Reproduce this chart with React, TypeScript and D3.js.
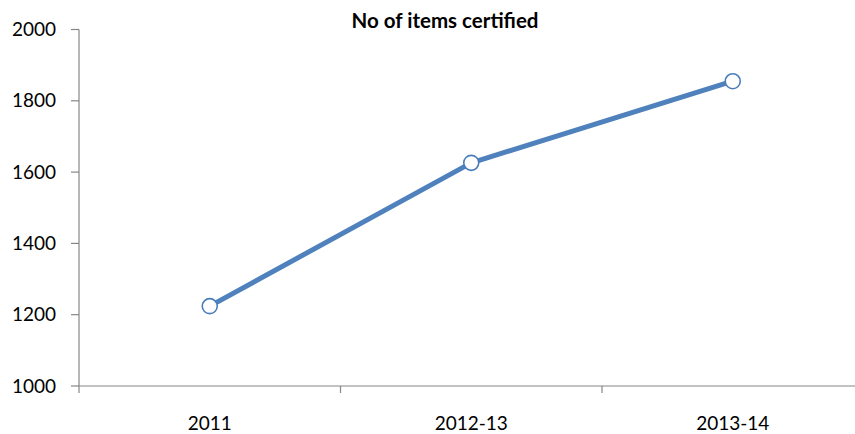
import React from "react";
import * as d3 from "d3";

const categories = ["2011", "2012-13", "2013-14"];
const itemsCertified = [1224, 1626, 1855];
const yTicks = [1000, 1200, 1400, 1600, 1800, 2000];
const chartTitle = "No of items certified";

const W = 855;
const H = 434;
const FONT = "Lato, 'Open Sans', sans-serif";

export default function App() {
  const left = 79;
  const top = 29.5;
  const bottom = 386;
  const right = 863.5;

  const x = d3.scaleBand<string>().domain(categories).range([left, right]).padding(0);
  const y = d3.scaleLinear().domain([1000, 2000]).range([bottom, top]);

  const cx = (c: string) => (x(c) ?? 0) + x.bandwidth() / 2;

  const line = d3
    .line<number>()
    .x((_, i) => cx(categories[i]))
    .y((d) => y(d));

  const axisColor = "#868686";
  const bandEdges = [...categories.map((c) => x(c) ?? 0), right];

  return (
    <svg
      width={W}
      height={H}
      style={{ position: "absolute", left: 0, top: 0, background: "#fff" }}
      fontFamily={FONT}
    >
      <text x={445} y={28} textAnchor="middle" fontSize={20.5} fontWeight="bold" fill="#000">
        {chartTitle}
      </text>

      {/* y axis */}
      <line x1={left} x2={left} y1={top} y2={bottom} stroke={axisColor} strokeWidth={1.2} />
      {yTicks.map((t) => (
        <g key={t}>
          <line x1={left - 8} x2={left} y1={y(t)} y2={y(t)} stroke={axisColor} strokeWidth={1.2} />
          <text x={left - 23} y={y(t)} dy="0.35em" textAnchor="end" fontSize={19} fill="#000">
            {t}
          </text>
        </g>
      ))}

      {/* x axis */}
      <line x1={left} x2={right} y1={bottom} y2={bottom} stroke={axisColor} strokeWidth={1.2} />
      {bandEdges.map((e, i) => (
        <line key={i} x1={e} x2={e} y1={bottom} y2={bottom + 7} stroke={axisColor} strokeWidth={1.2} />
      ))}
      {categories.map((c) => (
        <text key={c} x={cx(c)} y={bottom + 44} textAnchor="middle" fontSize={19} fill="#000">
          {c}
        </text>
      ))}

      <path
        d={line(itemsCertified) ?? ""}
        fill="none"
        stroke="#4f81bd"
        strokeWidth={5}
        strokeLinejoin="round"
      />
      {itemsCertified.map((v, i) => (
        <circle
          key={categories[i]}
          cx={cx(categories[i])}
          cy={y(v)}
          r={7.5}
          fill="#fff"
          stroke="#4a7ebb"
          strokeWidth={1.6}
        />
      ))}
    </svg>
  );
}
